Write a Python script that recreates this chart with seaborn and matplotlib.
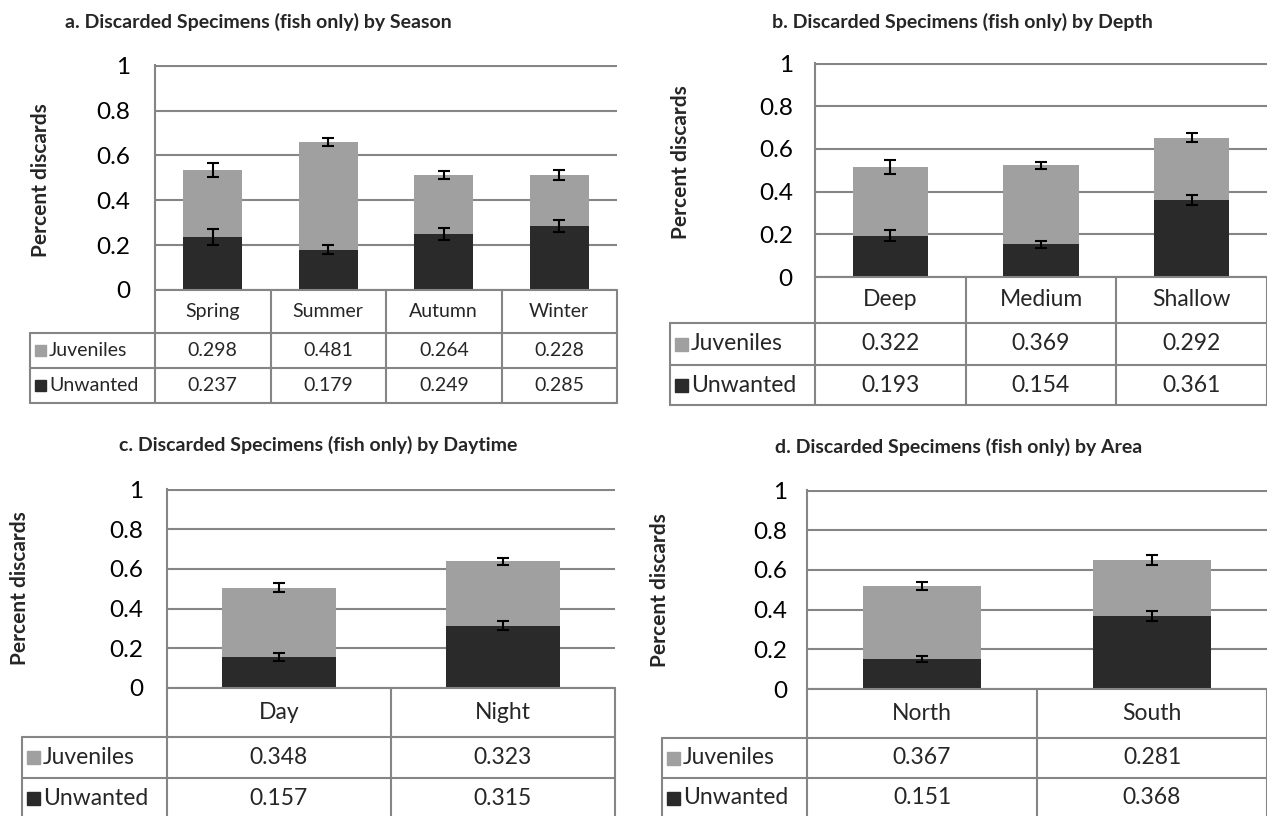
import matplotlib.pyplot as plt
import pandas as pd
import seaborn as sns
from matplotlib.patches import Rectangle

# data
season = ['Spring', 'Summer', 'Autumn', 'Winter']
season_juv = [0.298, 0.481, 0.264, 0.228]
season_unw = [0.237, 0.179, 0.249, 0.285]
season_err_tot = [0.031, 0.018, 0.019, 0.021]
season_err_unw = [0.035, 0.020, 0.028, 0.027]

depth = ['Deep', 'Medium', 'Shallow']
depth_juv = [0.322, 0.369, 0.292]
depth_unw = [0.193, 0.154, 0.361]
depth_err_tot = [0.033, 0.018, 0.022]
depth_err_unw = [0.025, 0.016, 0.025]

daytime = ['Day', 'Night']
daytime_juv = [0.348, 0.323]
daytime_unw = [0.157, 0.315]
daytime_err_tot = [0.022, 0.019]
daytime_err_unw = [0.019, 0.021]

area = ['North', 'South']
area_juv = [0.367, 0.281]
area_unw = [0.151, 0.368]
area_err_tot = [0.019, 0.024]
area_err_unw = [0.017, 0.027]

row_names = ['Juveniles', 'Unwanted']

LIGHT = '#a0a0a0'
DARK = '#2a2a2a'
LINE = '#858585'

sns.set_theme(style='white')
plt.rcParams['font.family'] = ['Lato', 'DejaVu Sans']

W, H = 1267, 816
fig = plt.figure(figsize=(W / 100, H / 100), dpi=100)
overlay = fig.add_axes([0, 0, 1, 1], zorder=5)
overlay.set_xlim(0, W)
overlay.set_ylim(H, 0)
overlay.axis('off')


def px_rect(x0, y0, x1, y1):
    return [x0 / W, 1 - y1 / H, (x1 - x0) / W, (y1 - y0) / H]


def draw_panel(cats, juv, unw, err_tot, err_unw, title, geo):
    x0, y0, x1, y1 = geo['plot']
    n = len(cats)
    ax = fig.add_axes(px_rect(x0, y0, x1, y1))
    df = pd.DataFrame({'cat': cats, 'juv': juv, 'unw': unw})
    df['total'] = df['juv'] + df['unw']

    sns.barplot(data=df, x='cat', y='total', color=LIGHT, saturation=1,
                width=geo['bw'], linewidth=0, ax=ax)
    sns.barplot(data=df, x='cat', y='unw', color=DARK, saturation=1,
                width=geo['bw'], linewidth=0, ax=ax)
    ax.errorbar(range(n), df['total'], yerr=err_tot, fmt='none', ecolor='black',
                elinewidth=1.5, capsize=4, capthick=1.5, zorder=4)
    ax.errorbar(range(n), df['unw'], yerr=err_unw, fmt='none', ecolor='black',
                elinewidth=1.5, capsize=4, capthick=1.5, zorder=4)

    ax.set_xlim(-0.5, n - 0.5)
    ax.set_ylim(0, 1.003)
    ax.set_yticks([0, 0.2, 0.4, 0.6, 0.8, 1])
    ax.set_yticklabels(['0', '0.2', '0.4', '0.6', '0.8', '1'])
    ax.set_xticks([])
    ax.set_xlabel('')
    ax.set_ylabel('')
    ax.yaxis.grid(True, color=LINE, linewidth=1.5)
    ax.set_axisbelow(True)
    for s in ['top', 'right', 'bottom']:
        ax.spines[s].set_visible(False)
    ax.spines['left'].set_color(LINE)
    ax.spines['left'].set_linewidth(1.5)
    ax.tick_params(axis='y', length=0, pad=geo['pad'], labelsize=geo['tick'], colors='black')

    tx, ty = geo['title']
    fig.text(tx / W, 1 - ty / H, title, ha='center', va='center',
             fontsize=14, fontweight='bold')
    lx, ly = geo['ylab']
    fig.text(lx / W, 1 - ly / H, 'Percent discards', rotation=90, ha='center',
             va='center', fontsize=15, fontweight='bold')

    # data table under the plot
    lab_x = geo['lab_x']
    r0, r1, r2, r3 = geo['rows']
    cw = (x1 - x0) / n
    kw = dict(color=LINE, linewidth=1.5)
    overlay.plot([x0, x1], [r0, r0], **kw)
    for r in (r1, r2, r3):
        overlay.plot([lab_x, x1], [r, r], **kw)
    overlay.plot([lab_x, lab_x], [r1, r3], **kw)
    for i in range(n + 1):
        xx = x0 + i * cw
        overlay.plot([xx, xx], [r0, r3], **kw)
    fs = geo['cell']
    for i, c in enumerate(cats):
        cx = x0 + (i + 0.5) * cw
        overlay.text(cx, (r0 + r1) / 2, c, ha='center', va='center', fontsize=fs)
        overlay.text(cx, (r1 + r2) / 2, f'{juv[i]:.3f}', ha='center', va='center', fontsize=fs)
        overlay.text(cx, (r2 + r3) / 2, f'{unw[i]:.3f}', ha='center', va='center', fontsize=fs)
    sq = geo['sq']
    for (top, bot), name, col in zip([(r1, r2), (r2, r3)], row_names, [LIGHT, DARK]):
        cy = (top + bot) / 2
        overlay.add_patch(Rectangle((lab_x + 5, cy - sq / 2), sq, sq, color=col))
        overlay.text(lab_x + 5 + sq + 3, cy, name, ha='left', va='center', fontsize=fs)


geo_a = dict(plot=(155, 65, 617, 290), lab_x=30, rows=(290, 333, 368, 403),
             title=(258, 22), ylab=(41, 180), tick=17.5, pad=18, cell=14, sq=11, bw=0.51)
geo_b = dict(plot=(815, 63, 1267, 277), lab_x=670, rows=(277, 323, 365, 405),
             title=(962, 22), ylab=(681, 162), tick=17.5, pad=16, cell=16.5, sq=13, bw=0.5)
geo_c = dict(plot=(167, 489, 615, 688), lab_x=22, rows=(688, 737, 778, 819),
             title=(318, 445), ylab=(20, 588), tick=17.5, pad=17, cell=16.5, sq=13, bw=0.51)
geo_d = dict(plot=(807, 490, 1267, 689), lab_x=662, rows=(689, 738, 778, 818),
             title=(959, 447), ylab=(660, 590), tick=17.5, pad=14, cell=16.5, sq=13, bw=0.51)

draw_panel(season, season_juv, season_unw, season_err_tot, season_err_unw,
           'a. Discarded Specimens (fish only) by Season', geo_a)
draw_panel(depth, depth_juv, depth_unw, depth_err_tot, depth_err_unw,
           'b. Discarded Specimens (fish only) by Depth', geo_b)
draw_panel(daytime, daytime_juv, daytime_unw, daytime_err_tot, daytime_err_unw,
           'c. Discarded Specimens (fish only) by Daytime', geo_c)
draw_panel(area, area_juv, area_unw, area_err_tot, area_err_unw,
           'd. Discarded Specimens (fish only) by Area', geo_d)

fig.savefig('out.png', dpi=100)
